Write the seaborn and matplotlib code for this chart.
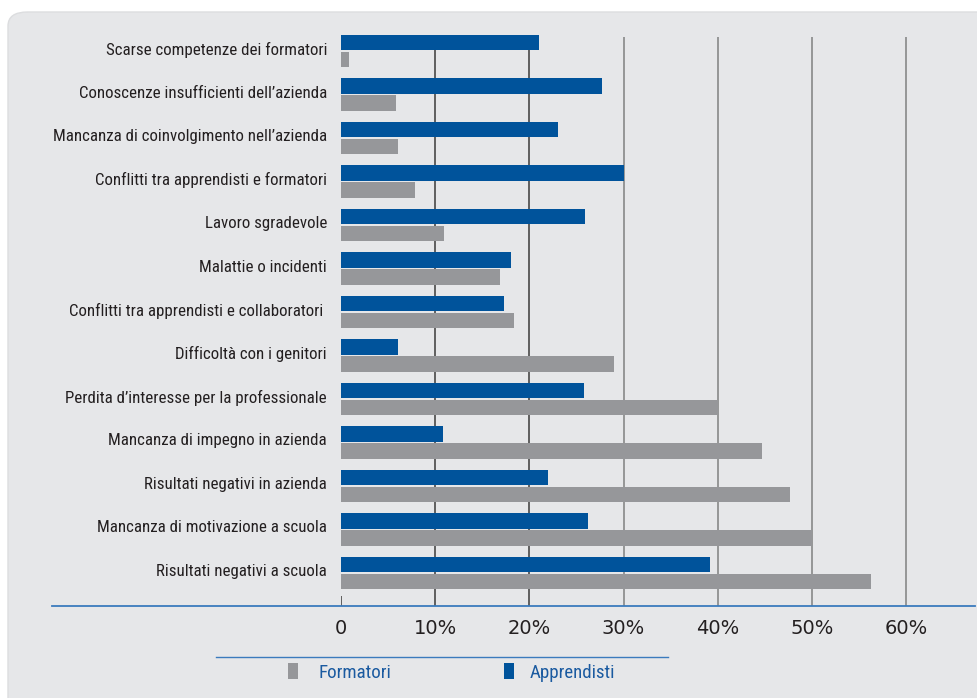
import matplotlib
matplotlib.use("Agg")
import matplotlib.pyplot as plt
import matplotlib.transforms as mtransforms
import seaborn as sns
import pandas as pd
from matplotlib.patches import FancyBboxPatch, Rectangle
from matplotlib.lines import Line2D

categories = [
    "Scarse competenze dei formatori",
    "Conoscenze insufficienti dell\u2019azienda",
    "Mancanza di coinvolgimento nell\u2019azienda",
    "Conflitti tra apprendisti e formatori",
    "Lavoro sgradevole",
    "Malattie o incidenti",
    "Conflitti tra apprendisti e collaboratori ",
    "Difficolt\u00e0 con i genitori",
    "Perdita d\u2019interesse per la professionale",
    "Mancanza di impegno in azienda",
    "Risultati negativi in azienda",
    "Mancanza di motivazione a scuola",
    "Risultati negativi a scuola",
]
apprendisti = [21, 27.7, 23, 30, 25.9, 18, 17.3, 6, 25.8, 10.8, 22, 26.2, 39.2]
formatori = [0.9, 5.8, 6, 7.9, 10.9, 16.9, 18.4, 29, 40, 44.7, 47.7, 50, 56.3]
tick_values = [0, 10, 20, 30, 40, 50, 60]
tick_labels = ["0", "10%", "20%", "30%", "40%", "50%", "60%"]

BLUE = "#00539b"
GRAY = "#96979a"
BG = "#e6e7e9"
LINE_BLUE = "#3b7bbd"
NARROW = ["Liberation Sans Narrow", "Roboto Condensed", "DejaVu Sans Condensed", "Liberation Sans", "DejaVu Sans"]

df = pd.DataFrame({
    "cat": categories * 2,
    "val": apprendisti + formatori,
    "series": ["Apprendisti"] * len(categories) + ["Formatori"] * len(categories),
})

W, H = 977, 698
fig = plt.figure(figsize=(W / 100, H / 100), dpi=100)
fig.patch.set_facecolor("white")

bg = FancyBboxPatch((8 / W, -0.1), 1.2, (H - 12) / H + 0.1,
                    boxstyle="round,pad=0,rounding_size=0.02",
                    transform=fig.transFigure, facecolor=BG, edgecolor="#dcdddf",
                    linewidth=1, zorder=-5)
fig.patches.append(bg)

px_per = (906 - 341) / 60.0
ax_left, ax_right = 341, 975
ax_top, ax_bottom = 30, 606
ax = fig.add_axes([ax_left / W, 1 - ax_bottom / H, (ax_right - ax_left) / W, (ax_bottom - ax_top) / H])
ax.set_facecolor("none")
pitch = 43.5
ylim_top = -(51 - ax_top) / pitch
ylim_bot = 12 + (ax_bottom - 573) / pitch

for v in tick_values[1:]:
    col = "#3a3a3a" if v <= 20 else "#808080"
    ax.vlines(v, ylim_bot, -(51 - 37) / pitch, color=col, linewidth=1.1, zorder=1)
ax.vlines(0, ylim_bot, ylim_bot - 10 / pitch, color="#3a3a3a", linewidth=1.1, zorder=1)

sns.barplot(data=df, y="cat", x="val", hue="series", hue_order=["Apprendisti", "Formatori"],
            palette={"Apprendisti": BLUE, "Formatori": GRAY}, orient="h",
            width=0.78, gap=0.06, saturation=1, legend=False, ax=ax, zorder=2)
ax.set_ylim(ylim_bot, ylim_top)
ax.set_xlim(0, (ax_right - ax_left) / px_per)

for s in ax.spines.values():
    s.set_visible(False)
ax.set_xlabel("")
ax.set_ylabel("")
ax.set_xticks(tick_values)
ax.set_xticklabels(tick_labels, fontsize=14, color="#231f20", family="DejaVu Sans")
ax.tick_params(axis="x", length=0, pad=9)
ax.set_yticks(range(len(categories)))
ax.set_yticklabels(categories, fontsize=12.2, color="#231f20", family=NARROW)
ax.tick_params(axis="y", length=0, pad=10)
shift = mtransforms.ScaledTranslation(0, 3 / 100, fig.dpi_scale_trans)
for tick in ax.yaxis.get_major_ticks():
    tick.label1.set_transform(tick.label1.get_transform() + shift)

fig.add_artist(Line2D([52 / W, 975 / W], [1 - 606 / H] * 2, color=LINE_BLUE, linewidth=1.3))
fig.add_artist(Line2D([216 / W, 668 / W], [1 - 657 / H] * 2, color=LINE_BLUE, linewidth=1.0))
fig.add_artist(Rectangle((288 / W, 1 - 679 / H), 10 / W, 16 / H, transform=fig.transFigure,
                         facecolor=GRAY, edgecolor="none"))
fig.text(318 / W, 1 - 673 / H, "Formatori", fontsize=13.6, color="#1a5aa0",
         family=NARROW, va="center", ha="left")
fig.add_artist(Rectangle((504 / W, 1 - 679 / H), 10 / W, 16 / H, transform=fig.transFigure,
                         facecolor=BLUE, edgecolor="none"))
fig.text(530 / W, 1 - 673 / H, "Apprendisti", fontsize=13.6, color="#1a5aa0",
         family=NARROW, va="center", ha="left")

fig.savefig("out.png", dpi=100, facecolor=fig.get_facecolor())
